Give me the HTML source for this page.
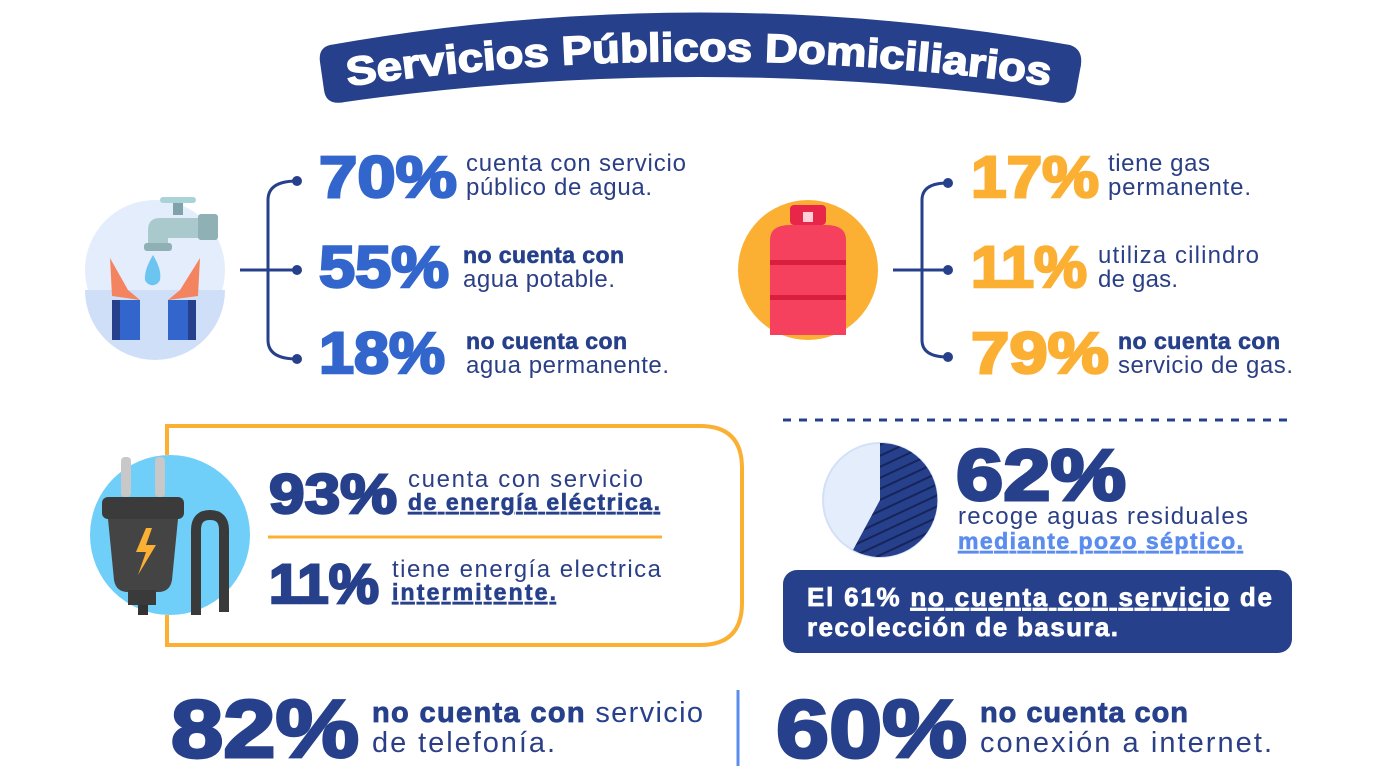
<!DOCTYPE html>
<html><head><meta charset="utf-8"><style>
html,body{margin:0;padding:0;background:#fff;width:1400px;height:781px;overflow:hidden}
svg{display:block}
text{font-family:"Liberation Sans",sans-serif}
.big{font-weight:900;font-family:"Liberation Sans",sans-serif}
.r{font-size:24px;fill:#2b3f86}
.b{font-size:23px;font-weight:bold;fill:#27408b;stroke:#27408b;stroke-width:0.6}
</style></head><body>
<svg width="1400" height="781" viewBox="0 0 1400 781" xmlns="http://www.w3.org/2000/svg">
<defs>
<pattern id="hatch" width="10" height="10" patternUnits="userSpaceOnUse" patternTransform="rotate(-25)">
<rect width="10" height="10" fill="#27408b"/><line x1="0" y1="5" x2="10" y2="5" stroke="#16245a" stroke-width="2"/></pattern>
<path id="arc" d="M348,86 Q700,36 1052,86"/>
</defs>
<!-- banner -->
<path d="M330,45 Q700,-20 1070,45 Q1085,50 1080,70 L1076,92 Q1072,106 1055,102 Q700,52 345,102 Q326,106 324,90 L320,62 Q318,48 330,45 Z" fill="#27408b"/>
<text font-size="40" font-weight="900" fill="#fff" stroke="#fff" stroke-width="1.5"><textPath href="#arc" textLength="704" lengthAdjust="spacingAndGlyphs">Servicios Públicos Domiciliarios</textPath></text>

<!-- water icon -->
<circle cx="155" cy="270" r="70" fill="#e3edfb"/>
<path d="M85,290 L225,290 A70,70 0 0 1 85,290 Z" fill="#cfdff7"/>
<rect x="112" y="300" width="28" height="40" fill="#3366cc"/><rect x="112" y="300" width="8" height="40" fill="#27408b"/>
<rect x="168" y="300" width="28" height="40" fill="#3366cc"/><rect x="188" y="300" width="8" height="40" fill="#27408b"/>
<path d="M110,258 L112,296 L140,300 L128,290 Z" fill="#f4845f"/><path d="M200,258 L198,296 L168,300 L180,290 Z" fill="#f4845f"/>
<rect x="160" y="197" width="36" height="6" rx="3" fill="#a9d3d6"/><rect x="173" y="203" width="10" height="12" fill="#7fa3a8"/>
<path d="M148,245 L148,230 Q148,218 160,218 L200,218 L200,238 L168,238 L168,245 Z" fill="#a9c9cc"/><rect x="198" y="214" width="20" height="26" rx="3" fill="#8fb1b5"/>
<rect x="144" y="243" width="28" height="8" rx="3" fill="#8fb1b5"/>
<path d="M153,255 Q162,270 160,280 A8,8 0 0 1 145,280 Q144,270 153,255Z" fill="#6cc4f0"/>
<!-- water bracket -->
<g stroke="#27408b" stroke-width="3" fill="none"><path d="M297,181 Q268,181 268,200 L268,340 Q268,359 297,359"/><line x1="240" y1="270" x2="297" y2="270"/></g>
<circle cx="297" cy="181" r="5" fill="#27408b"/><circle cx="297" cy="270" r="5" fill="#27408b"/><circle cx="297" cy="359" r="5" fill="#27408b"/>
<g fill="#3366cc" stroke="#3366cc" stroke-width="2.5" class="big" font-size="58">
<text x="319" y="197" textLength="138" lengthAdjust="spacingAndGlyphs">70%</text>
<text x="319" y="287" textLength="130" lengthAdjust="spacingAndGlyphs">55%</text>
<text x="319" y="373" textLength="126" lengthAdjust="spacingAndGlyphs">18%</text></g>
<text class="r" x="466" y="171" textLength="220">cuenta con servicio</text><text class="r" x="466" y="195" textLength="186">público de agua.</text>
<text class="b" x="463" y="263" textLength="161">no cuenta con</text><text class="r" x="463" y="287" textLength="152">agua potable.</text>
<text class="b" x="466" y="349" textLength="161">no cuenta con</text><text class="r" x="466" y="373" textLength="203">agua permanente.</text>

<!-- gas icon -->
<circle cx="808" cy="270" r="70" fill="#fbb034"/>
<rect x="790" y="205" width="36" height="20" rx="4" fill="#e8264a"/><rect x="803" y="212" width="10" height="10" fill="#ffd0d8"/>
<path d="M770,240 Q770,225 790,225 L826,225 Q846,225 846,240 L846,335 L770,335 Z" fill="#f5405e"/>
<rect x="770" y="260" width="76" height="5" fill="#d81f40"/><rect x="770" y="295" width="76" height="5" fill="#d81f40"/>
<g stroke="#27408b" stroke-width="3" fill="none"><path d="M948,183 Q922,183 922,200 L922,340 Q922,357 948,357"/><line x1="893" y1="270" x2="948" y2="270"/></g>
<circle cx="948" cy="183" r="5" fill="#27408b"/><circle cx="948" cy="270" r="5" fill="#27408b"/><circle cx="948" cy="357" r="5" fill="#27408b"/>
<g fill="#fbb034" stroke="#fbb034" stroke-width="2.5" class="big" font-size="58">
<text x="971" y="197" textLength="128" lengthAdjust="spacingAndGlyphs">17%</text>
<text x="971" y="287" textLength="116" lengthAdjust="spacingAndGlyphs">11%</text>
<text x="971" y="373" textLength="138" lengthAdjust="spacingAndGlyphs">79%</text></g>
<text class="r" x="1108" y="171" textLength="102">tiene gas</text><text class="r" x="1108" y="195" textLength="143">permanente.</text>
<text class="r" x="1098" y="263" textLength="161">utiliza cilindro</text><text class="r" x="1098" y="287" textLength="80">de gas.</text>
<text class="b" x="1118" y="349" textLength="162">no cuenta con</text><text class="r" x="1118" y="373" textLength="175">servicio de gas.</text>

<line x1="783" y1="420" x2="1293" y2="420" stroke="#27408b" stroke-width="3" stroke-dasharray="8,8"/>

<!-- energy -->
<path d="M167,455 L167,426 L700,426 Q742,426 742,468 L742,603 Q742,645 700,645 L167,645 L167,615" fill="none" stroke="#fbb034" stroke-width="4"/>
<circle cx="170" cy="535" r="80" fill="#6fcff8"/>
<rect x="121" y="457" width="10" height="40" rx="4" fill="#c8c8c8"/><rect x="155" y="457" width="10" height="40" rx="4" fill="#c8c8c8"/>
<rect x="102" y="497" width="82" height="22" rx="6" fill="#3b3b3b"/>
<path d="M108,519 L178,519 L172,580 Q170,592 158,592 L128,592 Q116,592 114,580Z" fill="#444"/>
<rect x="128" y="590" width="28" height="15" fill="#3a3a3a"/><rect x="138" y="605" width="10" height="10" fill="#333"/>
<path d="M146,528 L136,552 L146,552 L138,575 L156,545 L146,545 L152,528Z" fill="#fbb034"/>
<path d="M196,615 L196,530 Q196,515 210,515 Q224,515 224,530 L224,612" fill="none" stroke="#3a3a3a" stroke-width="10"/>
<g fill="#27408b" stroke="#27408b" stroke-width="2.5" class="big" font-size="56">
<text x="269" y="513" textLength="128" lengthAdjust="spacingAndGlyphs">93%</text>
<text x="269" y="603" textLength="110" lengthAdjust="spacingAndGlyphs">11%</text></g>
<text class="r" x="408" y="487" textLength="235">cuenta con servicio</text>
<text class="b" x="408" y="510" textLength="252" text-decoration="underline">de energía eléctrica.</text>
<line x1="268" y1="537" x2="662" y2="537" stroke="#fbb034" stroke-width="3"/>
<text class="r" x="392" y="577" textLength="269">tiene energía electrica</text>
<text class="b" x="392" y="600" textLength="164" text-decoration="underline">intermitente.</text>

<!-- pie -->
<circle cx="880" cy="500" r="57" fill="#e3edfb" stroke="#d3e0f7" stroke-width="2"/>
<path d="M880,500 L880,443 A57,57 0 1 1 853,550 Z" fill="url(#hatch)"/>
<text class="big" x="956" y="500" font-size="72" fill="#27408b" stroke="#27408b" stroke-width="3" textLength="170" lengthAdjust="spacingAndGlyphs">62%</text>
<text class="r" x="958" y="524" textLength="290">recoge aguas residuales</text>
<text class="b" x="958" y="549" style="fill:#5b8def;stroke:#5b8def" textLength="285" text-decoration="underline">mediante pozo séptico.</text>
<rect x="783" y="570" width="509" height="83" rx="14" fill="#27408b"/>
<text x="807" y="606" font-size="26" font-weight="bold" fill="#fff" stroke="#fff" stroke-width="0.7" textLength="465">El 61% <tspan text-decoration="underline">no cuenta con servicio</tspan> de</text>
<text x="807" y="636" font-size="26" font-weight="bold" fill="#fff" stroke="#fff" stroke-width="0.7" textLength="311">recolección de basura.</text>

<!-- bottom -->
<g fill="#27408b" stroke="#27408b" stroke-width="3" class="big" font-size="82">
<text x="171" y="757" textLength="188" lengthAdjust="spacingAndGlyphs">82%</text>
<text x="776" y="757" textLength="191" lengthAdjust="spacingAndGlyphs">60%</text></g>
<text x="372" y="722" font-size="29" fill="#27408b" textLength="331"><tspan font-weight="bold" stroke="#27408b" stroke-width="0.8">no cuenta con</tspan> servicio</text>
<text x="372" y="752" font-size="29" fill="#2b3f86" textLength="183">de telefonía.</text>
<line x1="738" y1="690" x2="738" y2="766" stroke="#5b8def" stroke-width="3"/>
<text x="980" y="722" font-size="29" font-weight="bold" fill="#27408b" stroke="#27408b" stroke-width="0.8" textLength="208">no cuenta con</text>
<text x="980" y="752" font-size="29" fill="#2b3f86" textLength="292">conexión a internet.</text>
</svg>
</body></html>
